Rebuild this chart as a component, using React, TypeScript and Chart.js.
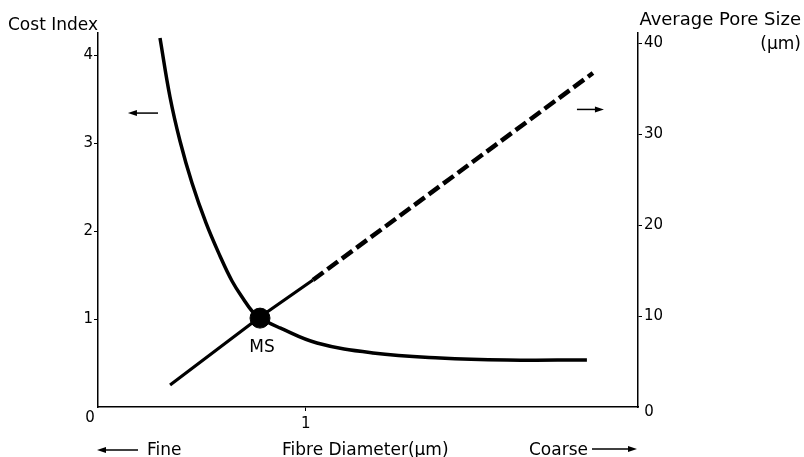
import React, { useEffect, useRef } from 'react';
import { Chart, registerables } from 'chart.js';
Chart.register(...registerables);

// Fibre diameter (µm) vs cost index (left axis)
const costX = [0.2985, 0.3467, 0.3948, 0.4526, 0.52, 0.5874, 0.6452, 0.703, 0.7414, 0.78, 0.8763, 1.0544, 1.324, 1.647, 1.969, 2.354];
const costY = [4.193, 3.523, 3.023, 2.545, 2.091, 1.716, 1.432, 1.216, 1.091, 1.011, 0.898, 0.727, 0.614, 0.557, 0.534, 0.534];
// Fibre diameter vs average pore size (right axis), solid part and dashed extrapolation
const poreSolidX = [0.347, 0.78, 1.035];
const poreSolidY = [2.42, 9.89, 13.96];
const poreDashX = [1.035, 2.383];
const poreDashY = [13.96, 36.7];
// Marked point MS
const msX = [0.78];
const msY = [1.01];
// Tick labels
const costTicks = [1, 2, 3, 4];
const poreTicks = [10, 20, 30, 40];
const xTicks = [1];
// Direction arrows (data units): cost arrow points left, pore arrow points right
const costArrowX = [0.289, 0.144];
const costArrowY = 3.34;
const poreArrowX = [2.306, 2.436];
const poreArrowY = 32.7;

const FONT = '"DejaVu Sans", sans-serif';

function arrow(ctx: CanvasRenderingContext2D, x1: number, y: number, x2: number) {
  const dir = x2 > x1 ? 1 : -1;
  ctx.beginPath();
  ctx.lineWidth = 1.5;
  ctx.moveTo(x1, y);
  ctx.lineTo(x2 - dir * 6, y);
  ctx.stroke();
  ctx.beginPath();
  ctx.moveTo(x2, y);
  ctx.lineTo(x2 - dir * 9, y - 3);
  ctx.lineTo(x2 - dir * 9, y + 3);
  ctx.closePath();
  ctx.fill();
}

const annot = {
  id: 'annot',
  afterDraw(chart: any) {
    const { ctx, scales } = chart;
    const x = scales.x, y = scales.y, y2 = scales.y2;
    ctx.save();
    ctx.fillStyle = '#000';
    ctx.strokeStyle = '#000';
    ctx.font = '17px ' + FONT;
    ctx.textBaseline = 'alphabetic';
    ctx.textAlign = 'left';
    ctx.fillText('Cost Index', 8, 30);
    ctx.textAlign = 'right';
    ctx.font = '18px ' + FONT;
    ctx.fillText('Average Pore Size', 801, 25);
    ctx.font = '17px ' + FONT;
    ctx.fillText('(µm)', 801, 49);

    // corner zeros
    ctx.font = '15px ' + FONT;
    ctx.textAlign = 'center';
    ctx.textBaseline = 'middle';
    ctx.fillText('0', x.left - 8, y.bottom + 11);
    ctx.fillText('0', x.right + 11, y.bottom + 5);

    // bottom labels
    ctx.font = '17px ' + FONT;
    ctx.textAlign = 'left';
    ctx.textBaseline = 'alphabetic';
    ctx.fillText('Fine', 147, 455);
    ctx.fillText('Fibre Diameter(µm)', 282, 455);
    ctx.fillText('Coarse', 529, 455);
    arrow(ctx, 138, 450, 97);
    arrow(ctx, 592, 449, 637);

    // MS label
    const mx = x.getPixelForValue(msX[0]);
    const my = y.getPixelForValue(msY[0]);
    ctx.textAlign = 'center';
    ctx.fillText('MS', mx + 2, my + 34);

    // direction arrows
    arrow(ctx, x.getPixelForValue(costArrowX[0]), y.getPixelForValue(costArrowY), x.getPixelForValue(costArrowX[1]));
    arrow(ctx, x.getPixelForValue(poreArrowX[0]), y2.getPixelForValue(poreArrowY), x.getPixelForValue(poreArrowX[1]));
    ctx.restore();
  },
};

export default function App() {
  const ref = useRef<HTMLCanvasElement>(null);
  useEffect(() => {
    if (!ref.current) return;
    const zip = (a: number[], b: number[]) => a.map((v, i) => ({ x: v, y: b[i] }));
    const chart = new Chart(ref.current, {
      type: 'line',
      data: {
        datasets: [
          {
            label: 'MS',
            data: zip(msX, msY),
            yAxisID: 'y',
            showLine: false,
            pointRadius: 10,
            pointBackgroundColor: '#000',
            pointBorderColor: '#000',
            order: 0,
          },
          {
            label: 'Cost Index',
            data: zip(costX, costY),
            yAxisID: 'y',
            borderColor: '#000',
            borderWidth: 3.5,
            pointRadius: 0,
            tension: 0.4,
            fill: false,
            order: 1,
          },
          {
            label: 'Average Pore Size',
            data: zip(poreSolidX, poreSolidY),
            yAxisID: 'y2',
            borderColor: '#000',
            borderWidth: 3.2,
            pointRadius: 0,
            fill: false,
            order: 1,
          },
          {
            label: 'Average Pore Size (extrapolated)',
            data: zip(poreDashX, poreDashY),
            yAxisID: 'y2',
            borderColor: '#000',
            borderWidth: 4.5,
            borderDash: [13, 5],
            pointRadius: 0,
            fill: false,
            order: 1,
          },
        ],
      },
      options: {
        animation: false,
        responsive: true,
        maintainAspectRatio: false,
        layout: { padding: { left: 0, right: 0, top: 33, bottom: 0 } },
        plugins: { legend: { display: false }, tooltip: { enabled: false } },
        scales: {
          x: {
            type: 'linear',
            min: 0,
            max: 2.6,
            afterBuildTicks: (s: any) => { s.ticks = xTicks.map((v) => ({ value: v })); },
            afterFit: (s: any) => { s.height = 50; },
            grid: { drawOnChartArea: false, drawTicks: true, tickLength: 4, color: '#000' },
            border: { display: true, color: '#000', width: 1.5 },
            ticks: { color: '#000', font: { family: FONT, size: 15 }, padding: 4, maxRotation: 0 },
          },
          y: {
            type: 'linear',
            position: 'left',
            min: 0,
            max: 4.25,
            afterBuildTicks: (s: any) => { s.ticks = costTicks.map((v) => ({ value: v })); },
            afterFit: (s: any) => { s.width = 98; },
            grid: { drawOnChartArea: false, drawTicks: true, tickLength: 4, color: '#000' },
            border: { display: true, color: '#000', width: 1.5 },
            ticks: { color: '#000', font: { family: FONT, size: 15 }, padding: 1 },
          },
          y2: {
            type: 'linear',
            position: 'right',
            min: 0,
            max: 41.1,
            afterBuildTicks: (s: any) => { s.ticks = poreTicks.map((v) => ({ value: v })); },
            afterFit: (s: any) => { s.width = 166; },
            grid: { drawOnChartArea: false, drawTicks: true, tickLength: 4, color: '#000' },
            border: { display: true, color: '#000', width: 1.5 },
            ticks: { color: '#000', font: { family: FONT, size: 15 }, padding: 2 },
          },
        },
      },
      plugins: [annot],
    } as any);
    return () => chart.destroy();
  }, []);
  return (
    <div style={{ position: 'absolute', left: 0, top: 0, width: 804, height: 457, background: '#fff' }}>
      <canvas ref={ref} />
    </div>
  );
}
